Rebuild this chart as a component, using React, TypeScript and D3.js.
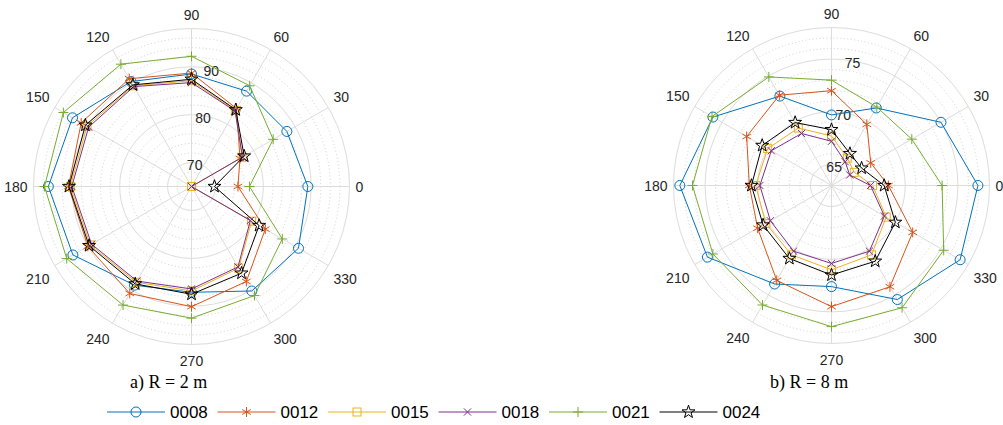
import React from "react";
import * as d3 from "d3";

// Measurement angles (degrees, counter-clockwise from east)
const THETA = [0, 30, 60, 90, 120, 150, 180, 210, 240, 270, 300, 330];
const THETA_LABELS = THETA.map(String);

const SERIES = ["0008", "0012", "0015", "0018", "0021", "0024"];
const COLORS = ["#0072BD", "#D95319", "#EDB120", "#7E2F8E", "#77AC30", "#000000"];
const MARKERS = ["circle", "asterisk", "square", "cross", "plus", "pentagram"];

// Panel a) R = 2 m
const r2_0008 = [89.3, 88.0, 88.0, 88.5, 90.3, 93.7, 94.9, 93.6, 88.8, 87.1, 90.2, 90.8];
const r2_0012 = [74.7, 76.7, 83.8, 88.7, 91.0, 91.6, 90.7, 90.0, 90.8, 90.1, 87.9, 82.8];
const r2_0015 = [65.0, 77.2, 83.3, 87.1, 89.3, 90.2, 90.3, 89.4, 88.1, 86.8, 84.7, 79.5];
const r2_0018 = [65.0, 77.3, 83.2, 86.7, 89.1, 89.8, 90.0, 89.1, 87.8, 86.4, 84.4, 79.2];
const r2_0021 = [77.1, 84.7, 89.3, 92.2, 94.5, 95.9, 95.7, 95.1, 93.6, 92.5, 91.3, 86.9];
const r2_0024 = [69.8, 77.7, 83.5, 87.4, 89.5, 90.6, 90.6, 89.7, 88.5, 87.5, 85.9, 81.3];

// Panel b) R = 8 m
const r8_0008 = [76.9, 75.0, 71.5, 69.7, 72.8, 76.0, 77.4, 76.6, 73.8, 72.6, 75.5, 77.1];
const r8_0012 = [68.4, 67.3, 69.7, 72.0, 72.9, 72.3, 70.8, 71.1, 73.4, 74.5, 74.1, 71.9];
const r8_0015 = [66.9, 65.5, 66.0, 67.7, 69.3, 70.0, 70.2, 70.2, 70.6, 71.0, 70.6, 69.0];
const r8_0018 = [66.7, 65.0, 65.6, 67.2, 68.7, 69.6, 69.8, 69.7, 70.2, 70.4, 70.2, 68.8];
const r8_0021 = [73.5, 71.8, 71.6, 73.0, 74.9, 76.1, 76.2, 76.0, 76.1, 76.4, 76.4, 75.3];
const r8_0024 = [68.0, 66.3, 66.5, 68.3, 69.9, 70.6, 70.6, 70.5, 71.0, 71.5, 71.3, 70.0];

const R2_TICKS = [70, 80, 90];
const R8_TICKS = [65, 70, 75];

const FONT = "'Liberation Sans', Arial, Helvetica, sans-serif";
const TEXT_COLOR = "#262626";
const GRID = "#dcdcdc";
const MINOR = "#c4c4c4";

type PanelProps = {
  cx: number;
  cy: number;
  radius: number;
  domain: [number, number];
  ticks: number[];
  minorStep: number;
  data: number[][];
  title: string;
  titleX: number;
};

const toRad = (deg: number) => (deg * Math.PI) / 180;

function Marker({ kind, x, y, color }: { kind: string; x: number; y: number; color: string }) {
  const common = { stroke: color, strokeWidth: 1, fill: "none" };
  switch (kind) {
    case "circle":
      return <circle cx={x} cy={y} r={5} {...common} />;
    case "square":
      return <rect x={x - 4} y={y - 4} width={8} height={8} {...common} />;
    case "cross":
      return (
        <path d={`M${x - 3.6},${y - 3.6}L${x + 3.6},${y + 3.6}M${x - 3.6},${y + 3.6}L${x + 3.6},${y - 3.6}`} {...common} />
      );
    case "plus":
      return <path d={`M${x - 5},${y}L${x + 5},${y}M${x},${y - 5}L${x},${y + 5}`} {...common} />;
    case "asterisk": {
      const s = 5;
      const a = s * Math.cos(Math.PI / 6);
      const b = s * Math.sin(Math.PI / 6);
      return (
        <path
          d={`M${x},${y - s}L${x},${y + s}M${x - a},${y - b}L${x + a},${y + b}M${x - a},${y + b}L${x + a},${y - b}`}
          {...common}
        />
      );
    }
    case "pentagram": {
      const pts: string[] = [];
      for (let i = 0; i < 10; i++) {
        const rr = i % 2 === 0 ? 6.8 : 2.7;
        const ang = -Math.PI / 2 + (i * Math.PI) / 5;
        pts.push(`${x + rr * Math.cos(ang)},${y + rr * Math.sin(ang)}`);
      }
      return <polygon points={pts.join(" ")} {...common} />;
    }
    default:
      return null;
  }
}

function PolarPanel({ cx, cy, radius, domain, ticks, minorStep, data, title, titleX }: PanelProps) {
  const r = d3.scaleLinear().domain(domain).range([0, radius]).clamp(true);
  const minorValues = d3
    .range(Math.ceil(domain[0] / minorStep) * minorStep, domain[1] + 1e-6, minorStep)
    .filter((v) => v > domain[0] && !ticks.includes(v) && v < domain[1] - 1e-6);

  const line = d3
    .lineRadial<number>()
    .angle((_, i) => toRad(90 - THETA[i]))
    .radius((v) => r(v))
    .curve(d3.curveLinearClosed);

  const labelR = radius + 6;
  const rAxisAngle = toRad(80);

  return (
    <g>
      {/* minor rings */}
      {minorValues.map((v) => (
        <circle key={`m${v}`} cx={cx} cy={cy} r={r(v)} fill="none" stroke={MINOR} strokeWidth={0.8} strokeDasharray="1 2.5" />
      ))}
      {/* major rings */}
      {ticks.map((v) => (
        <circle key={`t${v}`} cx={cx} cy={cy} r={r(v)} fill="none" stroke={GRID} strokeWidth={1} />
      ))}
      <circle cx={cx} cy={cy} r={radius} fill="none" stroke={GRID} strokeWidth={1} />
      {/* spokes */}
      {THETA.map((t) => (
        <line
          key={`s${t}`}
          x1={cx}
          y1={cy}
          x2={cx + radius * Math.cos(toRad(t))}
          y2={cy - radius * Math.sin(toRad(t))}
          stroke={GRID}
          strokeWidth={1}
        />
      ))}
      {/* angle labels */}
      {THETA.map((t, i) => {
        const c = Math.cos(toRad(t));
        const s = Math.sin(toRad(t));
        const x = cx + labelR * c;
        const y = cy - (labelR + 1) * s;
        const anchor = Math.abs(c) < 0.01 ? "middle" : c > 0 ? "start" : "end";
        const baseline = Math.abs(s) < 0.01 ? cy + 5 : s > 0 ? y - 2 : y + 14.5;
        return (
          <text key={`l${t}`} x={x} y={baseline} textAnchor={anchor} fontFamily={FONT} fontSize={14} fill={TEXT_COLOR}>
            {THETA_LABELS[i]}
          </text>
        );
      })}
      {/* radial tick labels */}
      {ticks.map((v) => (
        <text
          key={`rl${v}`}
          x={cx + r(v) * Math.cos(rAxisAngle) - 1}
          y={cy - r(v) * Math.sin(rAxisAngle) + 7}
          textAnchor="middle"
          fontFamily={FONT}
          fontSize={14}
          fill={TEXT_COLOR}
        >
          {v}
        </text>
      ))}
      {/* series */}
      {data.map((vals, si) => (
        <g key={SERIES[si]} transform={`translate(${cx},${cy})`}>
          <path d={line(vals) ?? ""} fill="none" stroke={COLORS[si]} strokeWidth={1} />
          {vals.map((v, i) => (
            <Marker
              key={i}
              kind={MARKERS[si]}
              x={r(v) * Math.cos(toRad(THETA[i]))}
              y={-r(v) * Math.sin(toRad(THETA[i]))}
              color={COLORS[si]}
            />
          ))}
        </g>
      ))}
      <text x={titleX} y={388} fontFamily="'Liberation Serif', 'Times New Roman', serif" fontSize={18} fill="#000">
        {title}
      </text>
    </g>
  );
}

export default function App() {
  const W = 1003;
  const H = 425;
  const legendY = 412;
  const legendX0 = 107;
  const legendStep = 110.5;
  return (
    <svg width={W} height={H} style={{ position: "absolute", left: 0, top: 0, background: "#fff" }}>
      <rect width={W} height={H} fill="#fff" />
      <PolarPanel
        cx={191.5}
        cy={186.5}
        radius={158}
        domain={[65, 98]}
        ticks={R2_TICKS}
        minorStep={2}
        data={[r2_0008, r2_0012, r2_0015, r2_0018, r2_0021, r2_0024]}
        title="a) R = 2 m"
        titleX={130}
      />
      <PolarPanel
        cx={831.5}
        cy={185.5}
        radius={158}
        domain={[63, 78]}
        ticks={R8_TICKS}
        minorStep={1}
        data={[r8_0008, r8_0012, r8_0015, r8_0018, r8_0021, r8_0024]}
        title="b) R = 8 m"
        titleX={770}
      />
      {/* legend */}
      {SERIES.map((name, i) => {
        const x = legendX0 + i * legendStep;
        return (
          <g key={name}>
            <line x1={x} y1={legendY} x2={x + 58} y2={legendY} stroke={COLORS[i]} strokeWidth={1} />
            <Marker kind={MARKERS[i]} x={x + 29} y={legendY} color={COLORS[i]} />
            <text x={x + 63} y={legendY + 6} fontFamily={FONT} fontSize={17} fill="#000">
              {name}
            </text>
          </g>
        );
      })}
    </svg>
  );
}
